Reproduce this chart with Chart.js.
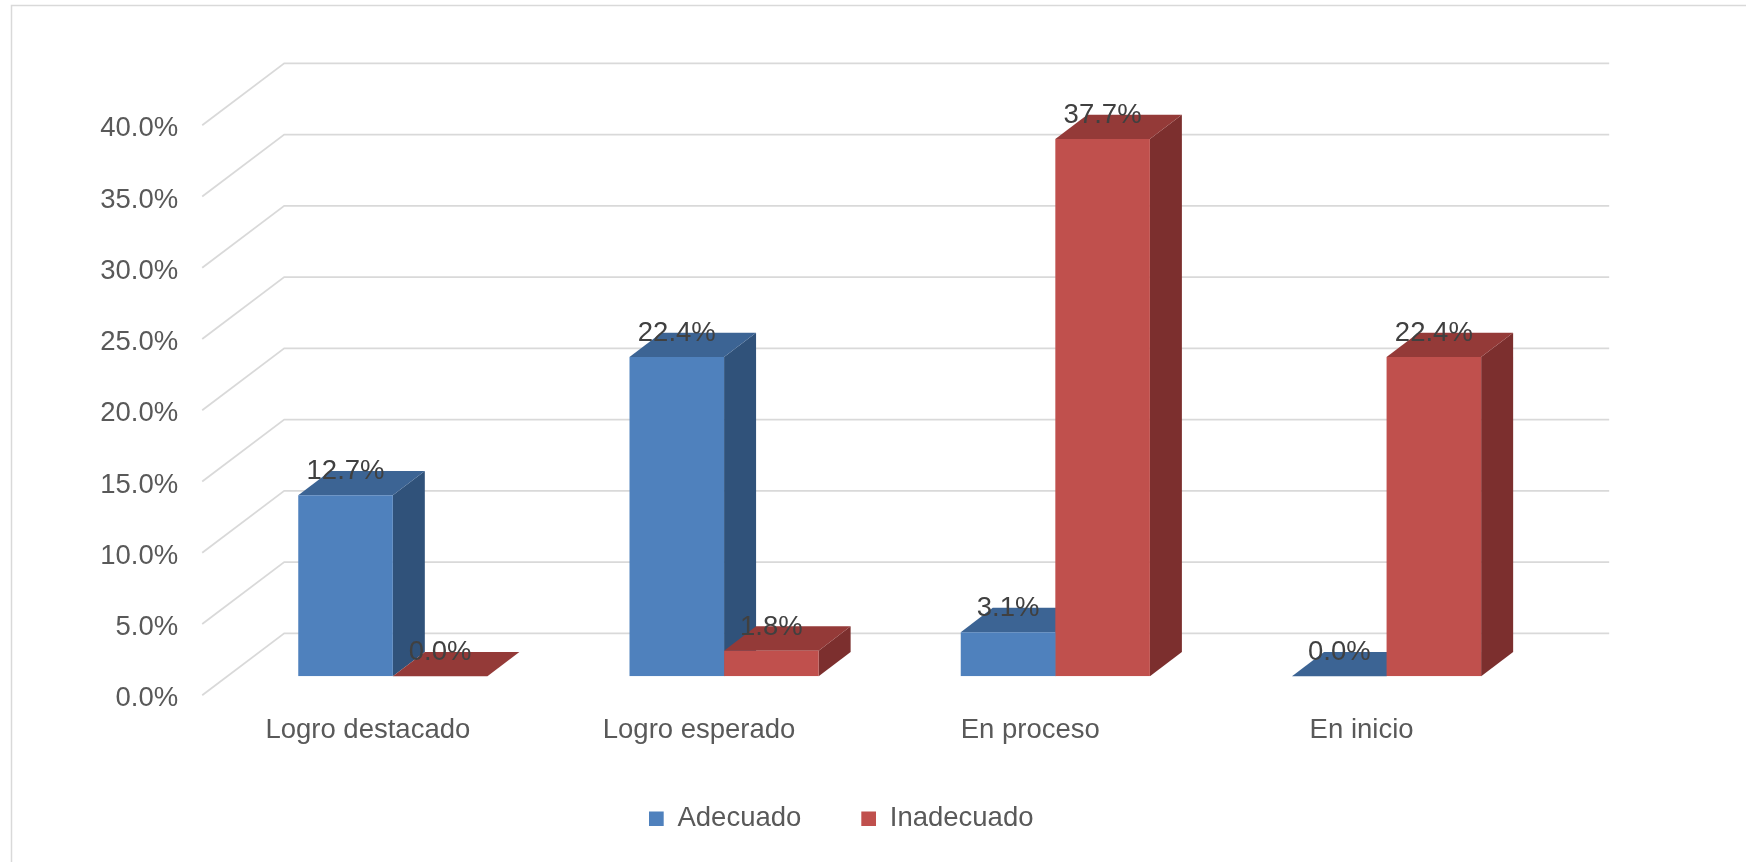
<!DOCTYPE html>
<html>
<head>
<meta charset="utf-8">
<script src="https://cdn.jsdelivr.net/npm/chart.js@4/dist/chart.umd.min.js"></script>
<style>
html,body{margin:0;padding:0;background:#ffffff;}
canvas{display:block;}
</style>
</head>
<body>
<canvas id="c" width="1746" height="862"></canvas>
<script>
// ---- data ----
const categories = ['Logro destacado', 'Logro esperado', 'En proceso', 'En inicio'];
const seriesNames = ['Adecuado', 'Inadecuado'];
const adecuado = [12.7, 22.4, 3.1, 0.0];
const inadecuado = [0.0, 1.8, 37.7, 22.4];
const yTicks = [0, 5, 10, 15, 20, 25, 30, 35, 40];

// ---- style / layout constants ----
const FONT = '"Liberation Sans", Arial, sans-serif';
const FS = 27.5;
const DX = 32, DY = 24.4;            // bar depth
const FRONT_X = 25, FRONT_Y = 19;    // floor front edge offset from bar plane
const BACK_X = 57, BACK_Y = 42.9;    // back wall offset from bar plane
const BAR_BASE_Y = 676.3;
const LEGEND_BOX_X = 649, LEGEND_ROW_Y = 805;
const LABEL_UP = 23.5;

const colors = {
  front: ['#4F81BD', '#C0504D'],
  top:   ['#3C6494', '#943A38'],
  side:  ['#30527A', '#7C2F2E']
};

const threeD = {
  id: 'threeD',
  beforeDraw(chart) {
    const ctx = chart.ctx;
    ctx.save();
    ctx.fillStyle = '#ffffff';
    ctx.fillRect(0, 0, chart.width, chart.height);
    ctx.strokeStyle = '#D9D9D9';
    ctx.lineWidth = 1.5;
    ctx.beginPath();
    ctx.moveTo(11.5, chart.height + 2);
    ctx.lineTo(11.5, 5.5);
    ctx.lineTo(chart.width + 2, 5.5);
    ctx.stroke();
    ctx.restore();
  },
  afterLayout(chart) {
    const lg = chart.legend;
    if (!lg || !lg.lineWidths) return;
    const pad = lg.options.labels.padding;
    const lw = lg.lineWidths[0];
    const cur = (lg.left + pad + lg.right - lw) / 2;
    const dx = LEGEND_BOX_X - cur;
    lg.left += dx; lg.right += dx;
    const top = LEGEND_ROW_Y - pad;
    lg.top = top; lg.bottom = top + lg.height;
  },
  beforeDatasetsDraw(chart) {
    const ctx = chart.ctx;
    const ys = chart.scales.y;
    const a = chart.chartArea;
    ctx.save();
    ctx.strokeStyle = '#D9D9D9';
    ctx.lineWidth = 1.75;
    ys.ticks.forEach(t => {
      const py = ys.getPixelForValue(t.value);
      ctx.beginPath();
      ctx.moveTo(a.left - FRONT_X, py + FRONT_Y);
      ctx.lineTo(a.left + BACK_X, py - BACK_Y);
      ctx.lineTo(a.right + BACK_X, py - BACK_Y);
      ctx.stroke();
    });
    const n = chart.data.labels.length;
    for (let i = 0; i < n; i++) {
      chart.data.datasets.forEach((ds, di) => {
        const bar = chart.getDatasetMeta(di).data[i];
        const p = bar.getProps(['x', 'y', 'base', 'width'], true);
        const l = p.x - p.width / 2, r = p.x + p.width / 2;
        ctx.fillStyle = colors.side[di];
        ctx.beginPath();
        ctx.moveTo(r, p.y); ctx.lineTo(r + DX, p.y - DY);
        ctx.lineTo(r + DX, p.base - DY); ctx.lineTo(r, p.base);
        ctx.closePath(); ctx.fill();
        ctx.fillStyle = colors.top[di];
        ctx.beginPath();
        ctx.moveTo(l, p.y); ctx.lineTo(r, p.y);
        ctx.lineTo(r + DX, p.y - DY); ctx.lineTo(l + DX, p.y - DY);
        ctx.closePath(); ctx.fill();
      });
    }
    ctx.restore();
  },
  afterDatasetsDraw(chart) {
    const ctx = chart.ctx;
    ctx.save();
    ctx.font = FS + 'px ' + FONT;
    ctx.fillStyle = '#404040';
    ctx.textAlign = 'center';
    ctx.textBaseline = 'middle';
    chart.data.datasets.forEach((ds, di) => {
      chart.getDatasetMeta(di).data.forEach((bar, i) => {
        ctx.fillText(ds.data[i].toFixed(1) + '%', bar.x, bar.y - LABEL_UP);
      });
    });
    ctx.restore();
  }
};

new Chart(document.getElementById('c'), {
  type: 'bar',
  data: {
    labels: categories,
    datasets: [
      { label: seriesNames[0], data: adecuado, backgroundColor: colors.front[0], borderWidth: 0,
        categoryPercentage: 0.571, barPercentage: 1.0 },
      { label: seriesNames[1], data: inadecuado, backgroundColor: colors.front[1], borderWidth: 0,
        categoryPercentage: 0.571, barPercentage: 1.0 }
    ]
  },
  options: {
    responsive: false,
    animation: false,
    events: [],
    layout: { padding: { top: 106.3, right: 193.8, bottom: 0, left: 0 } },
    scales: {
      x: {
        grid: { display: false, drawTicks: false },
        border: { display: false },
        ticks: { font: { family: FONT, size: FS }, color: '#595959', padding: 37.5, labelOffset: -25,
                 maxRotation: 0, autoSkip: false },
        afterFit(scale) {
          const lg = scale.chart.legend;
          scale.height = scale.chart.height - BAR_BASE_Y - (lg ? lg.height : 0);
        }
      },
      y: {
        min: 0, max: 40,
        grid: { display: false, drawTicks: false },
        border: { display: false },
        afterBuildTicks(scale) { scale.ticks = yTicks.map(v => ({ value: v })); },
        ticks: { font: { family: FONT, size: FS }, color: '#595959', padding: 49, labelOffset: 22.5,
                 callback: v => Number(v).toFixed(1) + '%' },
        afterFit(scale) { scale.width = 227.2; }
      }
    },
    plugins: {
      tooltip: { enabled: false },
      legend: {
        position: 'bottom',
        labels: { font: { family: FONT, size: FS }, color: '#595959', boxWidth: 14.7, boxHeight: 14.7, padding: 60 }
      }
    }
  },
  plugins: [threeD]
});
</script>
</body>
</html>
